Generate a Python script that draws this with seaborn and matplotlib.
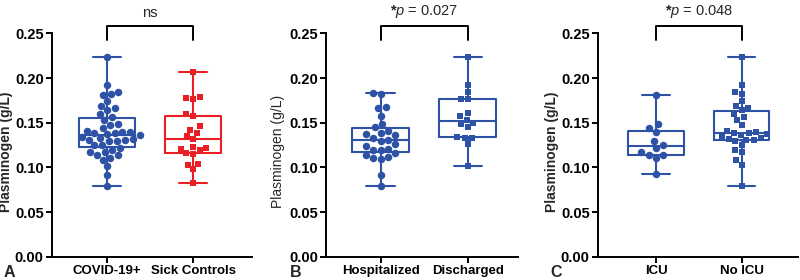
import matplotlib
matplotlib.use("Agg")
import matplotlib.pyplot as plt
import seaborn as sns
import pandas as pd

# plasminogen values (g/L)
covid_pos = [0.223, 0.192, 0.184, 0.182, 0.181, 0.174, 0.169, 0.167, 0.164, 0.160,
             0.156, 0.153, 0.148, 0.147, 0.144, 0.141, 0.140, 0.140, 0.139, 0.138,
             0.137, 0.136, 0.134, 0.133, 0.132, 0.131, 0.131, 0.130, 0.129, 0.125,
             0.125, 0.122, 0.120, 0.117, 0.117, 0.114, 0.114, 0.111, 0.108, 0.101,
             0.092, 0.079]
sick_controls = [0.207, 0.179, 0.178, 0.177, 0.160, 0.158, 0.146, 0.142, 0.139, 0.135,
                 0.132, 0.123, 0.122, 0.121, 0.119, 0.116, 0.115, 0.104, 0.103, 0.098,
                 0.083]
hospitalized = [0.183, 0.182, 0.168, 0.166, 0.158, 0.148, 0.145, 0.141, 0.139, 0.137,
                0.136, 0.133, 0.131, 0.130, 0.126, 0.124, 0.121, 0.120, 0.119, 0.116,
                0.114, 0.112, 0.111, 0.109, 0.092, 0.079]
discharged = [0.223, 0.192, 0.184, 0.176, 0.176, 0.161, 0.157, 0.153, 0.150, 0.148,
              0.145, 0.134, 0.133, 0.133, 0.126, 0.102]
icu = [0.181, 0.148, 0.144, 0.140, 0.130, 0.125, 0.122, 0.117, 0.114, 0.114, 0.111, 0.093]
no_icu = [0.223, 0.192, 0.184, 0.182, 0.174, 0.169, 0.167, 0.164, 0.160, 0.156,
          0.153, 0.147, 0.141, 0.140, 0.139, 0.138, 0.137, 0.136, 0.134, 0.133,
          0.132, 0.131, 0.131, 0.129, 0.125, 0.120, 0.117, 0.108, 0.103, 0.079]

BLUE = "#2E52A5"
RED = "#EA1F26"

panels = [
    dict(letter="A", letter_x=0.004, groups=["COVID-19+", "Sick Controls"],
         values=[covid_pos, sick_controls], colors=[BLUE, RED], sig="ns",
         rect=[0.065, 0.083, 0.25, 0.798], xlim=(-0.64, 1.68),
         ylab_weight="bold", ylab_x=-0.195),
    dict(letter="B", letter_x=0.3625, groups=["Hospitalized", "Discharged"],
         values=[hospitalized, discharged], colors=[BLUE, BLUE],
         sig=r"$\mathbf{*}\mathit{p}$ = 0.027",
         rect=[0.408, 0.083, 0.239, 0.798], xlim=(-0.62, 1.57),
         ylab_weight="normal", ylab_x=-0.215),
    dict(letter="C", letter_x=0.6875, groups=["ICU", "No ICU"],
         values=[icu, no_icu], colors=[BLUE, BLUE],
         sig=r"$\mathbf{*}\mathit{p}$ = 0.048",
         rect=[0.7475, 0.083, 0.25, 0.798], xlim=(-0.68, 1.66),
         ylab_weight="bold", ylab_x=-0.195),
]

sns.set_style("ticks")
plt.rcParams["font.family"] = ["Liberation Sans", "DejaVu Sans"]
plt.rcParams["mathtext.fontset"] = "custom"
plt.rcParams["mathtext.rm"] = "Liberation Sans"
plt.rcParams["mathtext.it"] = "Liberation Sans:italic"
plt.rcParams["mathtext.bf"] = "Liberation Sans:bold"

fig = plt.figure(figsize=(8, 2.8), dpi=100)

for p in panels:
    ax = fig.add_axes(p["rect"])
    df = pd.DataFrame({
        "group": [g for g, v in zip(p["groups"], p["values"]) for _ in v],
        "val": [x for v in p["values"] for x in v],
    })
    pal = dict(zip(p["groups"], p["colors"]))

    sns.boxplot(data=df, x="group", y="val", hue="group", order=p["groups"],
                palette=pal, fill=False, whis=(0, 100), width=0.65,
                linewidth=1.5, showfliers=False, legend=False, ax=ax)

    # first group circles, second group squares
    for g, c, m, sz in zip(p["groups"], p["colors"], ["o", "s"], [5.4, 5.0]):
        sns.swarmplot(data=df[df["group"] == g], x="group", y="val", order=p["groups"],
                      color=c, marker=m, size=sz, linewidth=0, ax=ax)

    ax.set_xlim(*p["xlim"])
    ax.set_ylim(0, 0.25)
    ax.set_yticks([0, 0.05, 0.10, 0.15, 0.20, 0.25])
    ax.set_yticklabels(["0.00", "0.05", "0.10", "0.15", "0.20", "0.25"],
                       fontweight="bold", fontsize=10.5)
    for lab in ax.get_xticklabels():
        lab.set_fontweight("bold")
        lab.set_fontsize(9.5)
    ax.set_xlabel("")
    ax.set_ylabel("Plasminogen (g/L)", fontsize=10, fontweight=p["ylab_weight"])
    ax.yaxis.set_label_coords(p["ylab_x"], 0.47)
    sns.despine(ax=ax)
    for s in ["left", "bottom"]:
        ax.spines[s].set_linewidth(1.4)
        ax.spines[s].set_color("black")
    ax.tick_params(width=1.4, length=4, colors="black", pad=2)

    # significance bracket
    ax.plot([0, 0, 1, 1], [0.243, 0.2585, 0.2585, 0.243], color="black",
            lw=1.4, clip_on=False)
    ax.text(0.5, 0.2645, p["sig"], ha="center", va="bottom", fontsize=10.5, clip_on=False)

    fig.text(p["letter_x"], 3 / 280, p["letter"], fontsize=11.5, fontweight="bold",
             ha="left", va="baseline")

fig.savefig("out.png", dpi=100)
